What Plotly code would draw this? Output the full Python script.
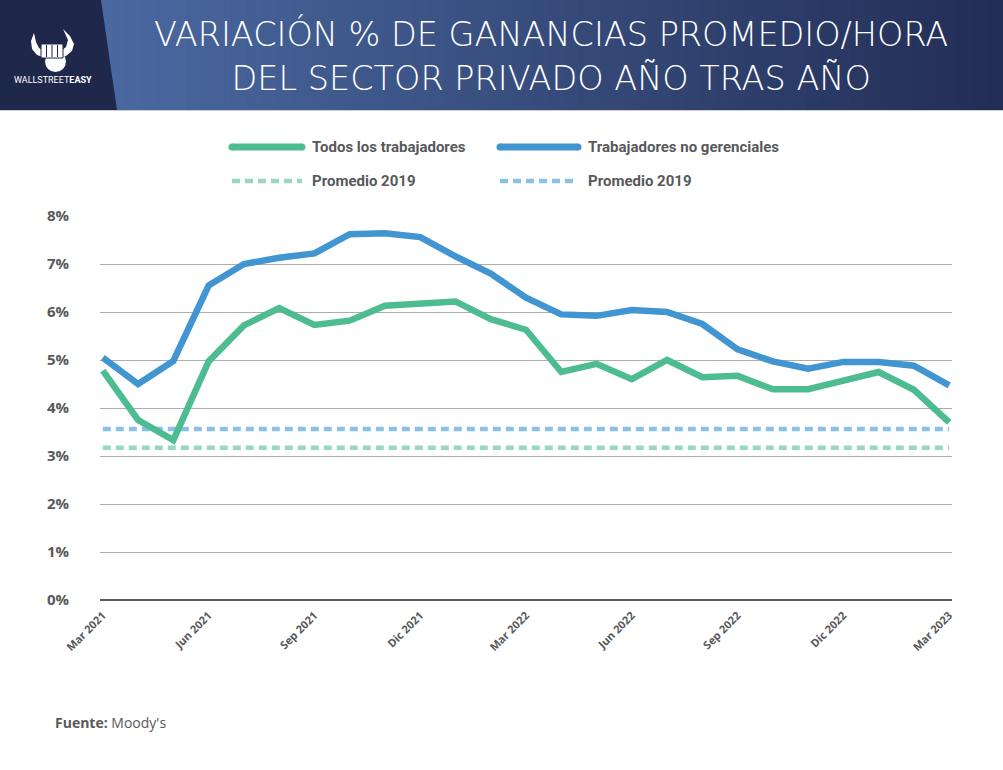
import plotly.graph_objects as go

# ---------------- data ----------------
months = ["Mar 2021", "Abr 2021", "May 2021", "Jun 2021", "Jul 2021", "Ago 2021",
          "Sep 2021", "Oct 2021", "Nov 2021", "Dic 2021", "Ene 2022", "Feb 2022",
          "Mar 2022", "Abr 2022", "May 2022", "Jun 2022", "Jul 2022", "Ago 2022",
          "Sep 2022", "Oct 2022", "Nov 2022", "Dic 2022", "Ene 2023", "Feb 2023",
          "Mar 2023"]
tick_labels = ["Mar 2021", "Jun 2021", "Sep 2021", "Dic 2021", "Mar 2022",
               "Jun 2022", "Sep 2022", "Dic 2022", "Mar 2023"]

todos = [4.78, 3.75, 3.33, 4.97, 5.72, 6.08, 5.73, 5.82, 6.13, 6.18, 6.22, 5.85,
         5.63, 4.75, 4.92, 4.60, 5.00, 4.64, 4.67, 4.39, 4.39, 4.57, 4.75, 4.38, 3.70]
no_gerenciales = [5.05, 4.50, 4.98, 6.55, 7.00, 7.13, 7.22, 7.62, 7.64, 7.56, 7.16, 6.80,
                  6.30, 5.95, 5.92, 6.04, 6.00, 5.75, 5.22, 4.97, 4.82, 4.96, 4.96, 4.88, 4.47]
prom2019_todos = 3.17
prom2019_no_ger = 3.56

y_ticks = [0, 1, 2, 3, 4, 5, 6, 7, 8]
y_tick_labels = ["0%", "1%", "2%", "3%", "4%", "5%", "6%", "7%", "8%"]

name_todos = "Todos los trabajadores"
name_noger = "Trabajadores no gerenciales"
name_prom = "Promedio 2019"

title_l1 = "VARIACIÓN % DE GANANCIAS PROMEDIO/HORA"
title_l2 = "DEL SECTOR PRIVADO AÑO TRAS AÑO"
source_txt = "<b>Fuente:</b> Moody's"

# ---------------- styles ----------------
GREEN = "#4dbd91"
BLUE = "#4195d1"
GREEN_L = "#98d8bf"
BLUE_L = "#8cc1e7"
GREY_TXT = "#58595b"

W, H = 1003, 770
L, R, T, B = 100, 51, 216, 170
PW, PH = W - L - R, H - T - B


def px(x):
    return (x - L) / PW


def py(y):
    return (H - B - y) / PH


fig = go.Figure()

fig.add_trace(go.Scatter(x=months, y=[prom2019_todos] * len(months), mode="lines",
                         line=dict(color=GREEN_L, width=4.5, dash="8px,5px"),
                         name=name_prom, showlegend=False, hoverinfo="skip"))
fig.add_trace(go.Scatter(x=months, y=[prom2019_no_ger] * len(months), mode="lines",
                         line=dict(color=BLUE_L, width=4.5, dash="8px,5px"),
                         name=name_prom, showlegend=False, hoverinfo="skip"))
fig.add_trace(go.Scatter(x=months, y=todos, mode="lines",
                         line=dict(color=GREEN, width=6.5),
                         name=name_todos, showlegend=False))
fig.add_trace(go.Scatter(x=months, y=no_gerenciales, mode="lines",
                         line=dict(color=BLUE, width=6.5),
                         name=name_noger, showlegend=False))

shapes = []
annotations = []

# ---------------- header ----------------
def lerp(c1, c2, t):
    a = [int(c1[i:i + 2], 16) for i in (1, 3, 5)]
    b = [int(c2[i:i + 2], 16) for i in (1, 3, 5)]
    return "rgb(%d,%d,%d)" % tuple(round(a[k] + (b[k] - a[k]) * t) for k in range(3))


n_strips = 60
x0h, x1h = 95, W
for i in range(n_strips):
    xa = x0h + (x1h - x0h) * i / n_strips
    xb = x0h + (x1h - x0h) * (i + 1) / n_strips + 0.8
    shapes.append(dict(type="rect", xref="paper", yref="paper",
                       x0=px(xa), x1=px(xb), y0=py(110), y1=py(0),
                       fillcolor=lerp("#4a69a1", "#232e56", i / (n_strips - 1)),
                       line=dict(width=0), layer="below"))

# dark logo block with slanted edge
shapes.append(dict(type="path", xref="paper", yref="paper",
                   path="M %f,%f L %f,%f L %f,%f L %f,%f Z" % (
                       px(0), py(0), px(101), py(0), px(117), py(110), px(0), py(110)),
                   fillcolor="#1f274a", line=dict(width=0), layer="below"))
shapes.append(dict(type="line", xref="paper", yref="paper",
                   x0=px(0), x1=px(W), y0=py(110.5), y1=py(110.5),
                   line=dict(color="#c9ced9", width=1), layer="below"))


def pth(points):
    s = "M %f,%f " % (px(points[0][0]), py(points[0][1]))
    for p in points[1:]:
        s += "L %f,%f " % (px(p[0]), py(p[1]))
    return s + "Z"


# logo icon (simplified bull + fist)
shapes.append(dict(type="path", xref="paper", yref="paper",
                   path=pth([(34, 33), (31, 41), (32, 49), (37, 55), (43, 57), (45, 52),
                             (39, 48), (36, 42)]),
                   fillcolor="white", line=dict(width=0)))
shapes.append(dict(type="path", xref="paper", yref="paper",
                   path=pth([(63, 29), (70, 36), (74, 44), (72, 51), (66, 56), (61, 57),
                             (60, 52), (66, 47), (68, 40)]),
                   fillcolor="white", line=dict(width=0)))
shapes.append(dict(type="circle", xref="paper", yref="paper",
                   x0=px(45), x1=px(66), y0=py(72), y1=py(51),
                   fillcolor="white", line=dict(width=0)))
shapes.append(dict(type="rect", xref="paper", yref="paper",
                   x0=px(41), x1=px(63), y0=py(58), y1=py(44),
                   fillcolor="white", line=dict(color="#1f274a", width=1)))
for fx in (46.5, 52, 57.5):
    shapes.append(dict(type="line", xref="paper", yref="paper",
                       x0=px(fx), x1=px(fx), y0=py(57), y1=py(45),
                       line=dict(color="#1f274a", width=1)))

annotations.append(dict(xref="paper", yref="paper", x=px(53), y=py(80),
                        text="WALLSTREET<b>EASY</b>", showarrow=False,
                        font=dict(family="Roboto", size=9, color="white"),
                        xanchor="center", yanchor="middle"))

# title (two lines in one text block)
title_font = dict(family="DejaVu Sans", size=33.5, color="white", weight=200)
annotations.append(dict(xref="paper", yref="paper", x=px(551), y=py(56),
                        text=title_l1 + "<br>" + title_l2, showarrow=False,
                        font=title_font, align="center",
                        xanchor="center", yanchor="middle"))

# ---------------- legend ----------------
leg_font = dict(family="Roboto", size=15, color=GREY_TXT, weight="bold")
legend_items = [
    (232, 302, 147, GREEN, 7, None, name_todos),
    (500, 578, 147, BLUE, 7, None, name_noger),
    (232, 302, 181, GREEN_L, 4.5, "dot", name_prom),
    (500, 578, 181, BLUE_L, 4.5, "dot", name_prom),
]
for xa, xb, yy, col, w, dash, txt in legend_items:
    if dash is None:
        shapes.append(dict(type="line", xref="paper", yref="paper",
                           x0=px(xa), x1=px(xb), y0=py(yy), y1=py(yy),
                           line=dict(color=col, width=w)))
        for cx in (xa, xb):
            shapes.append(dict(type="circle", xref="paper", yref="paper",
                               x0=px(cx - w / 2), x1=px(cx + w / 2),
                               y0=py(yy + w / 2), y1=py(yy - w / 2),
                               fillcolor=col, line=dict(width=0)))
    else:
        shapes.append(dict(type="line", xref="paper", yref="paper",
                           x0=px(xa), x1=px(xb), y0=py(yy), y1=py(yy),
                           line=dict(color=col, width=w, dash="8px,5px")))
    annotations.append(dict(xref="paper", yref="paper", x=px(xb + 8), y=py(yy),
                            text=txt, showarrow=False, font=leg_font,
                            xanchor="left", yanchor="middle"))

# source
annotations.append(dict(xref="paper", yref="paper", x=px(53), y=py(722),
                        text=source_txt, showarrow=False,
                        font=dict(family="Open Sans", size=14, color=GREY_TXT),
                        xanchor="left", yanchor="middle"))

fig.update_layout(
    width=W, height=H,
    margin=dict(l=L, r=R, t=T, b=B, pad=0),
    paper_bgcolor="white", plot_bgcolor="white",
    showlegend=False,
    shapes=shapes, annotations=annotations,
    xaxis=dict(type="category", range=[-0.08, len(months) - 1 + 0.08],
               tickmode="array", tickvals=tick_labels, ticktext=tick_labels,
               tickangle=-45, showgrid=False, zeroline=False, showline=False,
               ticks="", ticklabelstandoff=6,
               tickfont=dict(family="Open Sans", size=11, color=GREY_TXT, weight="bold")),
    yaxis=dict(range=[0, 8], tickmode="array", tickvals=y_ticks, ticktext=y_tick_labels,
               showgrid=True, gridcolor="#adadad", gridwidth=1,
               zeroline=True, zerolinecolor="#58595b", zerolinewidth=1.5,
               showline=False, ticks="", ticklabelstandoff=30,
               tickfont=dict(family="Open Sans", size=15, color=GREY_TXT, weight="bold")),
)

fig.write_html("out.html", config={"displayModeBar": False},
               post_script="document.body.style.margin='0px';document.body.style.overflow='hidden';")
